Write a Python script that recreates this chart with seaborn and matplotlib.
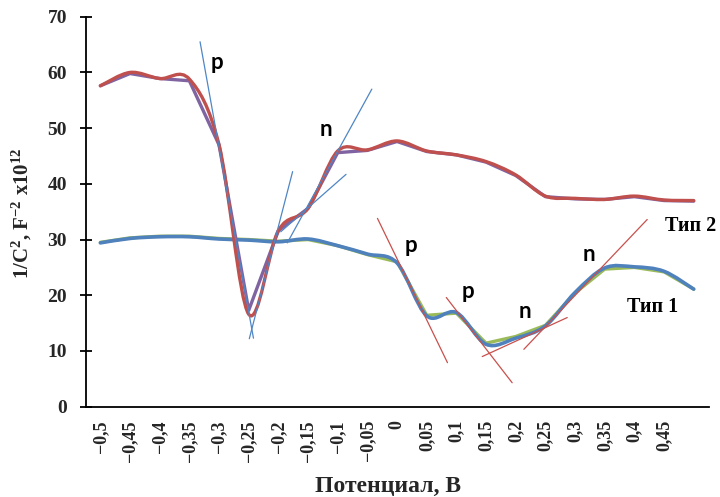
import numpy as np
import pandas as pd
import matplotlib
matplotlib.use("Agg")
import matplotlib.pyplot as plt
from matplotlib.path import Path
from matplotlib.patches import PathPatch
import seaborn as sns

# Potential, V (category centres)
potential = [-0.5, -0.45, -0.4, -0.35, -0.3, -0.25, -0.2, -0.15, -0.1, -0.05,
             0.0, 0.05, 0.1, 0.15, 0.2, 0.25, 0.3, 0.35, 0.4, 0.45, 0.5]
tick_labels = ["\u22120,5", "\u22120,45", "\u22120,4", "\u22120,35", "\u22120,3",
               "\u22120,25", "\u22120,2", "\u22120,15", "\u22120,1", "\u22120,05",
               "0", "0,05", "0,1", "0,15", "0,2", "0,25", "0,3", "0,35", "0,4", "0,45"]

# 1/C^2, F^-2 x10^12
type2_smooth = [57.6, 60.0, 58.9, 58.8, 47.0, 16.6, 31.6, 35.6, 45.9, 46.1, 47.7,
                45.9, 45.2, 44.0, 41.6, 37.8, 37.4, 37.2, 37.8, 37.1, 37.0]
type2_linear = [57.6, 59.8, 58.9, 58.5, 47.0, 17.3, 31.6, 35.6, 45.6, 46.0, 47.6,
                45.8, 45.2, 43.9, 41.5, 37.7, 37.3, 37.2, 37.7, 37.0, 36.9]
type1_smooth = [29.4, 30.2, 30.5, 30.5, 30.1, 29.9, 29.6, 30.1, 28.9, 27.4, 25.8,
                16.3, 16.9, 11.2, 12.3, 14.5, 20.5, 24.9, 25.1, 24.3, 21.1]
type1_linear = [29.5, 30.3, 30.6, 30.6, 30.2, 30.0, 29.7, 30.0, 28.9, 27.3, 26.0,
                16.4, 16.8, 11.4, 12.6, 14.6, 20.4, 24.7, 25.0, 24.2, 21.1]

# Tangent segments (x0, y0, x1, y1)
tangents_type2 = [(-0.332, 65.5, -0.242, 12.3),
                  (-0.249, 12.2, -0.176, 42.2),
                  (-0.185, 29.4, -0.0425, 57.0),
                  (-0.196, 31.4, -0.086, 41.7)]
tangents_type1 = [(-0.033, 33.8, 0.085, 7.9),
                  (0.083, 19.6, 0.194, 4.3),
                  (0.1436, 9.0, 0.2868, 16.0),
                  (0.2137, 10.3, 0.4216, 33.6)]

# Conductivity-type annotations and series names
band_labels = [("p", -0.304, 61.7), ("n", -0.119, 49.7), ("p", 0.024, 29.0),
               ("p", 0.120, 20.6), ("n", 0.216, 17.0), ("n", 0.323, 27.4)]
series_labels = [("Тип 2", 0.495, 32.4), ("Тип 1", 0.430, 17.9)]

RED, PURPLE, BLUE, GREEN = "#C0504D", "#8064A2", "#4F81BD", "#9BBB59"
TAN_BLUE, TAN_RED = "#4F86C6", "#C9504C"

sns.set_style("white")
plt.rcParams["font.family"] = ["Liberation Serif", "DejaVu Serif"]
plt.rcParams["font.weight"] = "bold"
plt.rcParams["mathtext.fontset"] = "custom"
plt.rcParams["mathtext.rm"] = "Liberation Serif:bold"
plt.rcParams["mathtext.it"] = "Liberation Serif:bold"
plt.rcParams["mathtext.bf"] = "Liberation Serif:bold"


def smooth_path(x, y):
    """Bezier path through the points (Catmull-Rom style smoothing)."""
    pts = np.column_stack([np.asarray(x, float), np.asarray(y, float)])
    n = len(pts)
    verts = [pts[0]]
    codes = [Path.MOVETO]
    for i in range(n - 1):
        p0 = pts[i - 1] if i > 0 else pts[i]
        p1, p2 = pts[i], pts[i + 1]
        p3 = pts[i + 2] if i + 2 < n else pts[i + 1]
        verts += [p1 + (p2 - p0) / 6.0, p2 - (p3 - p1) / 6.0, p2]
        codes += [Path.CURVE4] * 3
    return Path(verts, codes)


fig = plt.figure(figsize=(7.2, 4.97), dpi=100)
ax = fig.add_axes([0.1188, 0.1817, 0.8653, 0.7847])

df = pd.DataFrame({"potential": potential,
                   "type1": type1_linear, "type2": type2_linear})

# Type 1
sns.lineplot(data=df, x="potential", y="type1", color=GREEN, lw=2.4,
             estimator=None, sort=False, ax=ax, zorder=2)
ax.add_patch(PathPatch(smooth_path(potential, type1_smooth), facecolor="none",
                       edgecolor=BLUE, lw=2.6, capstyle="round",
                       joinstyle="round", zorder=3))
# Type 2
sns.lineplot(data=df, x="potential", y="type2", color=PURPLE, lw=2.4,
             estimator=None, sort=False, ax=ax, zorder=4)
ax.add_patch(PathPatch(smooth_path(potential, type2_smooth), facecolor="none",
                       edgecolor=RED, lw=2.4, capstyle="round",
                       joinstyle="round", zorder=5))

# Tangents
for x0, y0, x1, y1 in tangents_type2:
    ax.plot([x0, x1], [y0, y1], color=TAN_BLUE, lw=0.9, zorder=6)
for x0, y0, x1, y1 in tangents_type1:
    ax.plot([x0, x1], [y0, y1], color=TAN_RED, lw=0.9, zorder=6)

for txt, x, y in band_labels:
    ax.text(x, y, txt, family=["Lato", "DejaVu Sans"], fontweight="bold",
            fontsize=16, ha="center", va="center", color="black", zorder=7)
for txt, x, y in series_labels:
    ax.text(x, y, txt, fontsize=14.5, fontweight="bold", ha="center",
            va="center", color="black", clip_on=False, zorder=7)

# Axes
half = (potential[1] - potential[0]) / 2
ax.set_xlim(potential[0] - half, potential[-1] + half)
ax.set_ylim(0, 70)
ax.set_xlabel("")
ax.set_ylabel("")

ax.set_xticks(potential[:len(tick_labels)])
ax.set_xticklabels(tick_labels, rotation=90, fontsize=13, fontweight="bold")
bounds = [p - half for p in potential] + [potential[-1] + half]
ax.set_xticks(bounds, minor=True)
ax.tick_params(axis="x", which="major", length=0, pad=9.6)
ax.tick_params(axis="x", which="minor", direction="inout", length=8.6,
               width=1.3, color="black")

ax.set_yticks(range(0, 80, 10))
ax.set_yticklabels([str(v) for v in range(0, 80, 10)], fontsize=14,
                   fontweight="bold")
ax.tick_params(axis="y", direction="inout", length=8.6, width=1.3,
               color="black", pad=9, left=True)

sns.despine(ax=ax, top=True, right=True)
for side in ("left", "bottom"):
    ax.spines[side].set_color("black")
    ax.spines[side].set_linewidth(1.3)
ax.grid(False)

fig.text(388 / 720, 1 - 486 / 497, "Потенциал, В", fontsize=17,
         fontweight="bold", ha="center", va="center")
fig.text(22 / 720, 1 - 213 / 497, r"1/C$^{2}$, F$^{-2}$ x10$^{12}$",
         fontsize=15, fontweight="bold", rotation=90, ha="center", va="center")

fig.savefig("out.png", dpi=100)
